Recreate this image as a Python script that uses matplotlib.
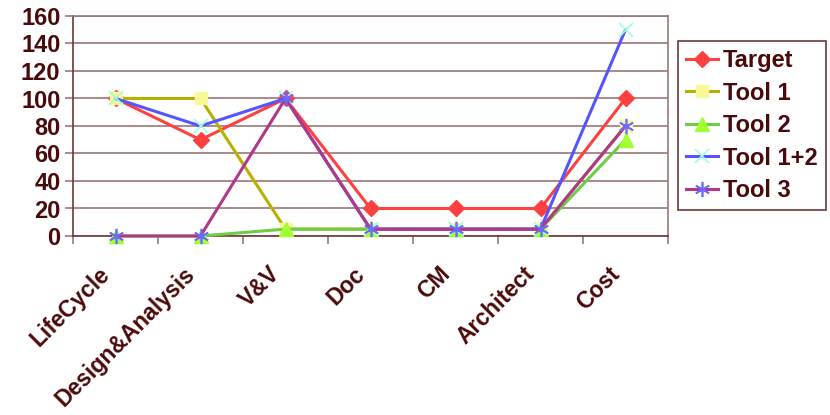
import matplotlib
matplotlib.use('Agg')
import matplotlib.pyplot as plt
import matplotlib.transforms as mtransforms
import numpy as np

categories = ['LifeCycle', 'Design&Analysis', 'V&V', 'Doc', 'CM', 'Architect', 'Cost']
target = [100, 70, 100, 20, 20, 20, 100]
tool1 = [100, 100, 5, 5, 5, 5, 80]
tool2 = [0, 0, 5, 5, 5, 5, 70]
tool12 = [100, 80, 100, 5, 5, 5, 150]
tool3 = [0, 0, 100, 5, 5, 5, 80]

text_col = '#4a0a0a'
grid_col = '#9b7777'

plt.rcParams['font.family'] = ['Liberation Sans', 'DejaVu Sans']
plt.rcParams['font.weight'] = 'bold'

fig = plt.figure(figsize=(8.3, 4.15), dpi=100)
ax = fig.add_axes([73/830, 1 - 236/415, (668 - 73)/830, (236 - 16)/415])

x = np.arange(len(categories))
ax.plot(x, target, color='#ff4040', lw=2.2, marker='D', ms=8,
        mfc='#ff4040', mec='#ff4040', label='Target', zorder=3, clip_on=False)
ax.plot(x, tool1, color='#b8b000', lw=2.2, marker='s', ms=9,
        mfc='#f8f898', mec='#f8f898', label='Tool 1', zorder=4, clip_on=False)
ax.plot(x, tool2, color='#70cc48', lw=2.2, marker='^', ms=10,
        mfc='#a0ff30', mec='#a0ff30', label='Tool 2', zorder=5, clip_on=False)
ax.plot(x, tool12, color='#5555ff', lw=2.2, marker='x', ms=10, mew=1.2,
        mfc='#a0ffd8', mec='#a0ffd8', label='Tool 1+2', zorder=6, clip_on=False)
ax.plot(x, tool3, color='#b03888', lw=2.2, marker=(6, 2, 0), ms=11, mew=1.2,
        mec='#6a6aff', label='Tool 3', zorder=7, clip_on=False)

ax.set_xlim(-0.5, len(categories) - 0.5)
ax.set_ylim(0, 160)
ax.set_yticks(np.arange(0, 161, 20))
ax.yaxis.grid(True, color=grid_col, lw=1.2)
ax.set_axisbelow(True)

ax.set_xticks(x)
ax.set_xticklabels(categories, rotation=45, ha='right', va='center',
                   rotation_mode='anchor')
ax.set_xticks(np.arange(-0.5, len(categories), 1), minor=True)
ax.tick_params(axis='x', which='major', length=0, pad=30, labelsize=16.5,
               labelcolor=text_col)
ax.tick_params(axis='x', which='minor', length=6, width=1.2, color=grid_col)
ax.tick_params(axis='y', length=6, width=1.2, color=grid_col, labelsize=17,
               labelcolor=text_col, pad=3)

# nudge the rotated labels a bit left and up
shift = mtransforms.ScaledTranslation(-9/100, 7/100, fig.dpi_scale_trans)
for lab in ax.get_xticklabels():
    lab.set_transform(lab.get_transform() + shift)

for s in ax.spines.values():
    s.set_color(grid_col)
    s.set_linewidth(1.2)
ax.spines['left'].set_color('#6b3a3a')
ax.spines['bottom'].set_color('#6b3a3a')

leg = fig.legend(loc='upper left', bbox_to_anchor=(678/830, 1 - 41/415),
                 borderaxespad=0, fancybox=False, framealpha=1,
                 edgecolor='#6b3a3a', fontsize=17, handlelength=1.35,
                 labelspacing=0.4, borderpad=0.35, handletextpad=0.2)
for t in leg.get_texts():
    t.set_color(text_col)
leg.get_frame().set_linewidth(1.2)

fig.savefig('out.png', dpi=100)
